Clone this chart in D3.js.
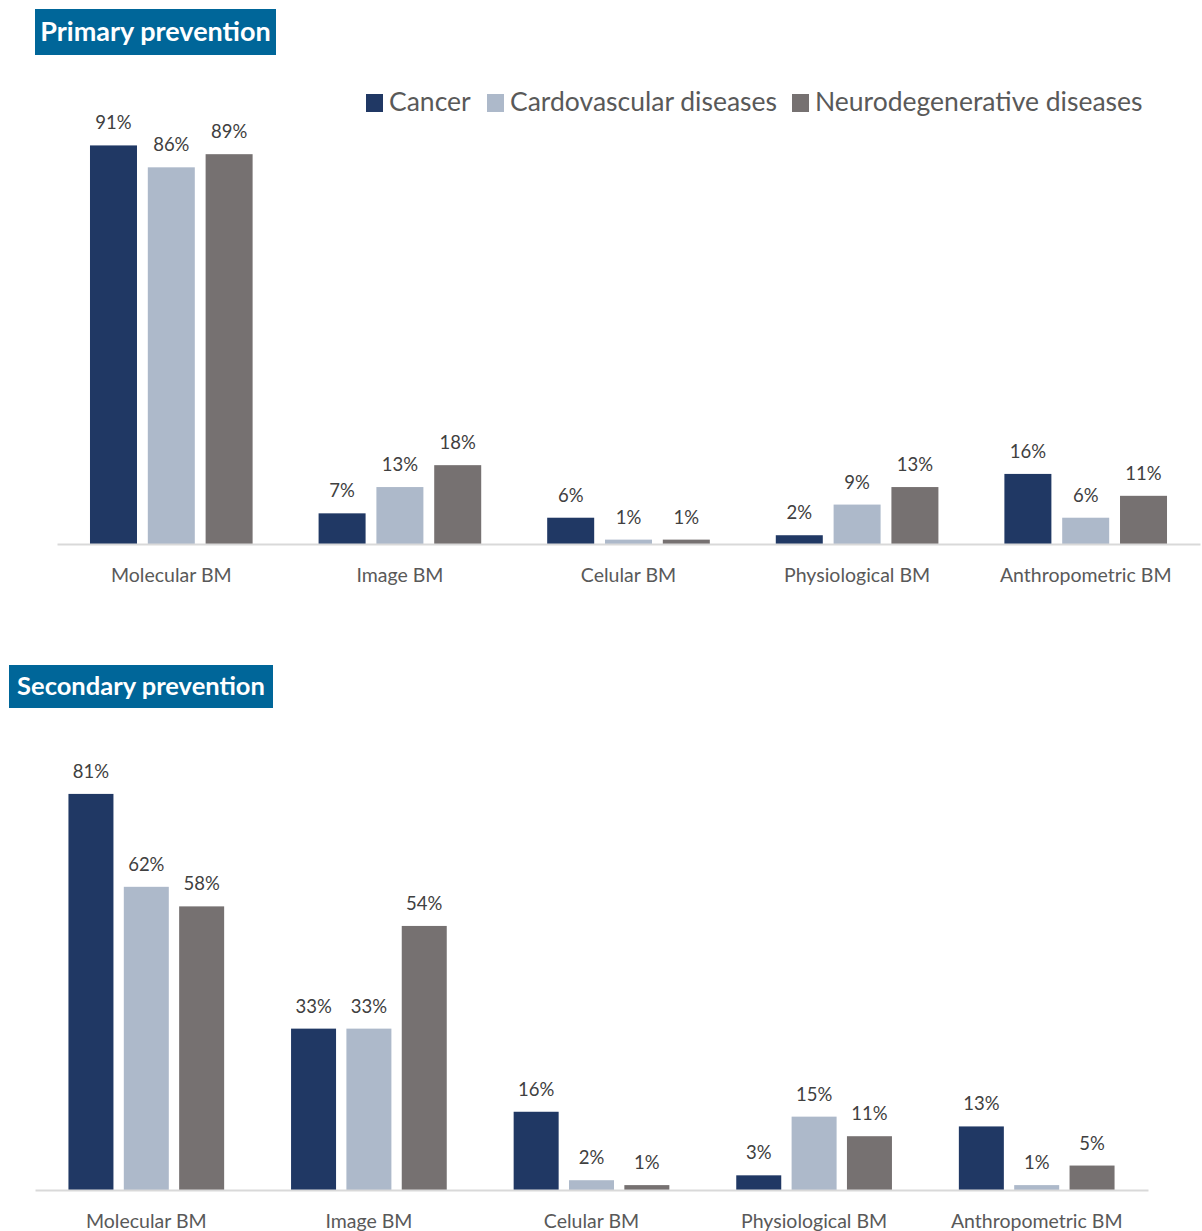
<!DOCTYPE html>
<html>
<head>
<meta charset="utf-8">
<script src="https://cdn.jsdelivr.net/npm/d3@7"></script>
<style>
  html, body { margin: 0; padding: 0; background: #fff; }
  svg text { font-family: Lato, "Open Sans", sans-serif; }
</style>
</head>
<body>
<svg id="chart" width="1202" height="1231"></svg>
<script>
// Biomarker categories and disease groups
const categories = ["Molecular BM", "Image BM", "Celular BM", "Physiological BM", "Anthropometric BM"];
const series = ["Cancer", "Cardovascular diseases", "Neurodegenerative diseases"];
const colors = ["#203864", "#ADB9CA", "#767171"];

// Share of studies (%) per category, one array per disease group
const primaryCancer = [91, 7, 6, 2, 16];
const primaryCardio = [86, 13, 1, 9, 6];
const primaryNeuro  = [89, 18, 1, 13, 11];

const secondaryCancer = [81, 33, 16, 3, 13];
const secondaryCardio = [62, 33, 2, 15, 1];
const secondaryNeuro  = [58, 54, 1, 11, 5];

const svg = d3.select("#chart");

function panel(opts) {
  const { title, titleSize, box, x0, x1, base, top, barW, values } = opts;
  const g = svg.append("g");

  // Title banner
  g.append("rect")
    .attr("x", box.x).attr("y", box.y)
    .attr("width", box.w).attr("height", box.h)
    .attr("fill", "#006699");
  g.append("text")
    .attr("x", box.x + box.w / 2).attr("y", box.y + box.h / 2 + titleSize / 3)
    .attr("text-anchor", "middle")
    .attr("fill", "#fff")
    .attr("font-size", titleSize).attr("font-weight", 700)
    .text(title);

  const x = d3.scaleBand().domain(categories).range([x0, x1]).paddingInner(0).paddingOuter(0);
  const y = d3.scaleLinear().domain([0, 100]).range([base, top]);
  const step = barW * 1.23;

  const rows = categories.map((c, i) => ({
    cat: c,
    vals: series.map((s, j) => ({ s, j, v: values[j][i] }))
  }));

  const grp = g.selectAll("g.cat").data(rows).join("g")
    .attr("transform", d => `translate(${x(d.cat) + x.bandwidth() / 2},0)`);

  grp.selectAll("rect").data(d => d.vals).join("rect")
    .attr("x", d => (d.j - 1) * step - barW / 2)
    .attr("y", d => y(d.v))
    .attr("width", barW)
    .attr("height", d => base - y(d.v))
    .attr("fill", d => colors[d.j]);

  grp.selectAll("text.val").data(d => d.vals).join("text")
    .attr("class", "val")
    .attr("x", d => (d.j - 1) * step)
    .attr("y", d => y(d.v) - 16)
    .attr("text-anchor", "middle")
    .attr("font-size", 18.5)
    .attr("fill", "#404040")
    .text(d => d.v + "%");

  // Baseline axis
  const axis = d3.axisBottom(x).tickSize(0).tickPadding(24);
  const ax = g.append("g").attr("transform", `translate(0,${base})`).call(axis);
  ax.select(".domain").attr("stroke", "#D9D9D9").attr("stroke-width", 2);
  ax.selectAll("text")
    .attr("font-size", 19.5)
    .attr("fill", "#595959")
    .style("font-family", "Lato, 'Open Sans', sans-serif");
}

panel({
  title: "Primary prevention",
  titleSize: 27,
  box: { x: 35, y: 9, w: 241, h: 46 },
  x0: 57, x1: 1200, base: 544, top: 106, barW: 47,
  values: [primaryCancer, primaryCardio, primaryNeuro]
});

panel({
  title: "Secondary prevention",
  titleSize: 25.5,
  box: { x: 9, y: 665, w: 264, h: 43 },
  x0: 35, x1: 1148, base: 1190, top: 701, barW: 45,
  values: [secondaryCancer, secondaryCardio, secondaryNeuro]
});

// Legend
const legend = svg.append("g").attr("transform", "translate(366,94)");
const legendX = [0, 121, 426];
legend.selectAll("rect").data(series).join("rect")
  .attr("x", (d, i) => legendX[i]).attr("y", 0)
  .attr("width", 17).attr("height", 18)
  .attr("fill", (d, i) => colors[i]);
legend.selectAll("text").data(series).join("text")
  .attr("x", (d, i) => legendX[i] + 23).attr("y", 17)
  .attr("font-size", 26.5)
  .attr("fill", "#595959")
  .text(d => d);
</script>
</body>
</html>
